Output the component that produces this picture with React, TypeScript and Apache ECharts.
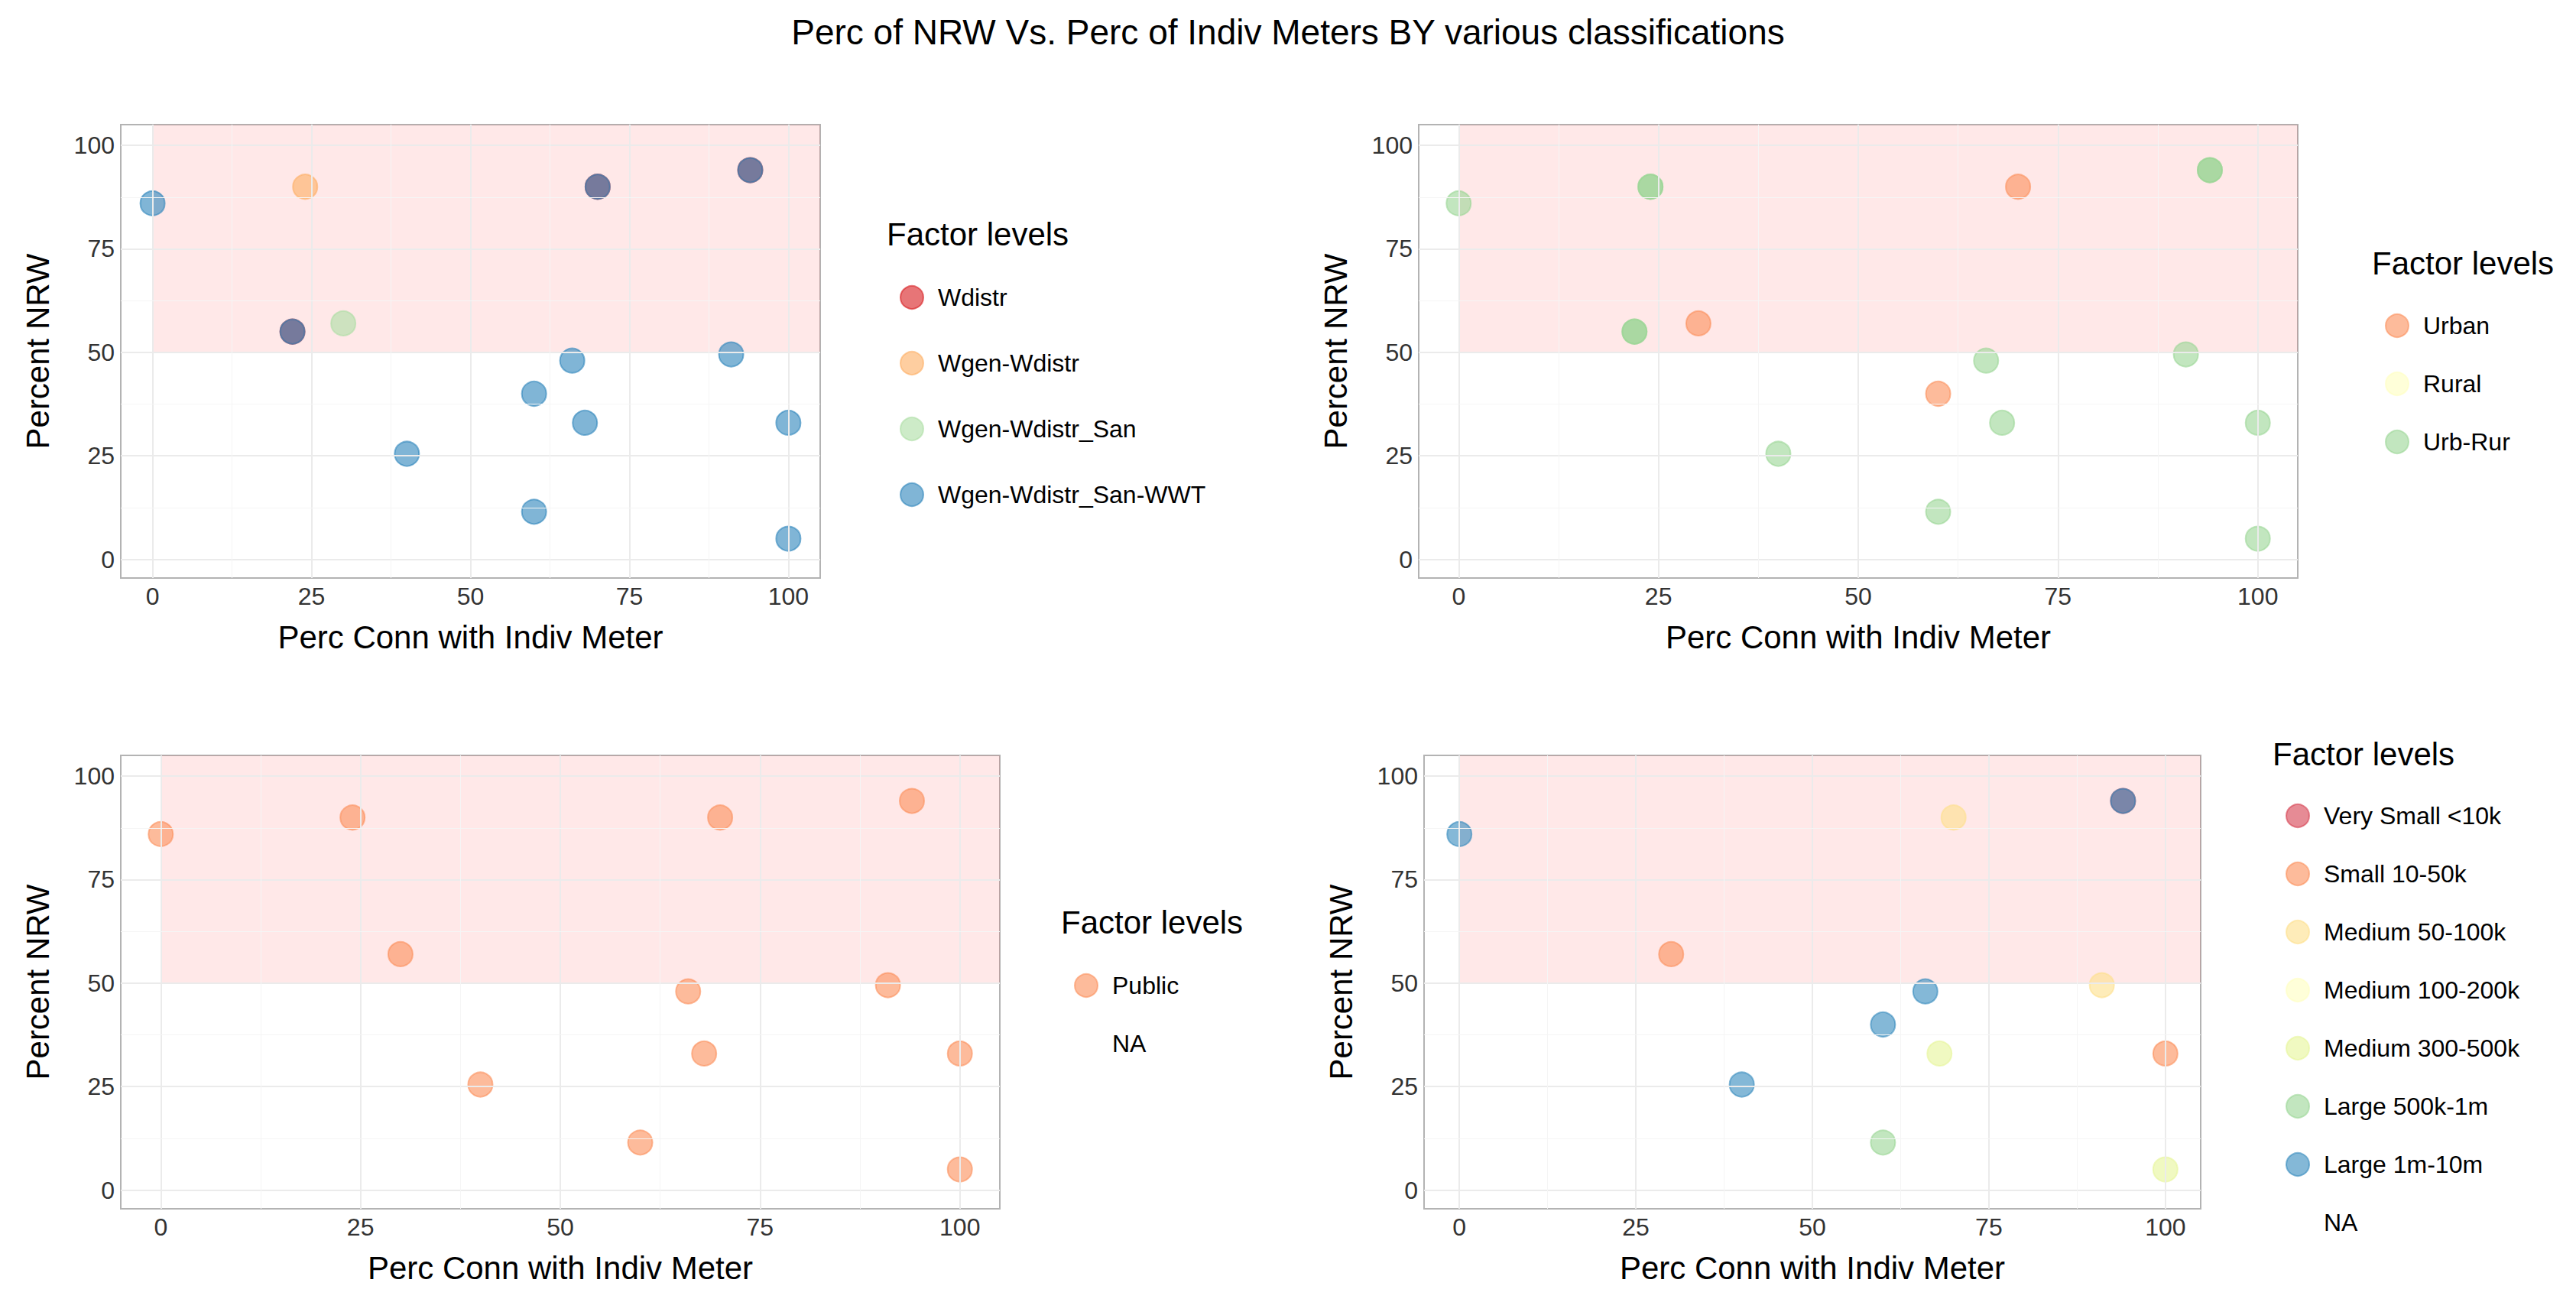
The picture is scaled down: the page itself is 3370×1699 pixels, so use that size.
import React, { useEffect, useRef } from 'react';
import * as echarts from 'echarts';

// [x, y] pairs
const p1Wdistr = [[22, 55], [70, 90], [94, 94]];
const p1WgenWdistr = [[24, 90]];
const p1WgenSan = [[30, 57]];
const p1WgenWWT = [[0, 86], [22, 55], [70, 90], [94, 94], [66, 48], [91, 49.5], [60, 40], [68, 33], [100, 33], [40, 25.5], [60, 11.5], [100, 5]];

const p2Urban = [[30, 57], [70, 90], [60, 40]];
const p2Rural: number[][] = [];
const p2UrbRur = [[0, 86], [24, 90], [24, 90], [22, 55], [22, 55], [94, 94], [94, 94], [66, 48], [91, 49.5], [100, 33], [68, 33], [40, 25.5], [60, 11.5], [100, 5]];

const p3Public = [[0, 86], [24, 90], [30, 57], [70, 90], [94, 94], [66, 48], [91, 49.5], [100, 33], [68, 33], [40, 25.5], [60, 11.5], [100, 5]];

const p4VerySmall = [[94, 94]];
const p4Small = [[30, 57], [100, 33]];
const p4Med50 = [[70, 90], [91, 49.5]];
const p4Med100: number[][] = [];
const p4Med300 = [[68, 33], [100, 5]];
const p4Large500 = [[60, 11.5]];
const p4Large1m = [[0, 86], [94, 94], [66, 48], [60, 40], [40, 25.5]];

const ticks = [0, 25, 50, 75, 100];
const minorTicks = [12.5, 37.5, 62.5, 87.5];

const FONT = 'Liberation Sans';

const panels = [
  {
    grid: { left: 158, top: 163, width: 915, height: 593 },
    legendPos: { left: 1172, top: 368, gap: 54 },
    titlePos: { left: 1155, top: 280 },
    series: [
      ['Wdistr', '#D7191C', p1Wdistr],
      ['Wgen-Wdistr', '#FDAE61', p1WgenWdistr],
      ['Wgen-Wdistr_San', '#ABDDA4', p1WgenSan],
      ['Wgen-Wdistr_San-WWT', '#2B83BA', p1WgenWWT],
    ],
  },
  {
    grid: { left: 1856, top: 163, width: 1150, height: 593 },
    legendPos: { left: 3115, top: 405, gap: 44 },
    titlePos: { left: 3098, top: 318 },
    series: [
      ['Urban', '#FC8D59', p2Urban],
      ['Rural', '#FFFFBF', p2Rural],
      ['Urb-Rur', '#99D594', p2UrbRur],
    ],
  },
  {
    grid: { left: 158, top: 988, width: 1150, height: 593 },
    legendPos: { left: 1400, top: 1268, gap: 44 },
    titlePos: { left: 1383, top: 1180 },
    series: [
      ['Public', '#FC8D59', p3Public],
      ['NA', 'rgba(0,0,0,0)', []],
    ],
  },
  {
    grid: { left: 1863, top: 988, width: 1016, height: 593 },
    legendPos: { left: 2985, top: 1046, gap: 44 },
    titlePos: { left: 2968, top: 960 },
    series: [
      ['Very Small <10k', '#D53E4F', p4VerySmall],
      ['Small 10-50k', '#FC8D59', p4Small],
      ['Medium 50-100k', '#FEE08B', p4Med50],
      ['Medium 100-200k', '#FFFFBF', p4Med100],
      ['Medium 300-500k', '#E6F598', p4Med300],
      ['Large 500k-1m', '#99D594', p4Large500],
      ['Large 1m-10m', '#3288BD', p4Large1m],
      ['NA ', 'rgba(0,0,0,0)', []],
    ],
  },
];

const App: React.FC = () => {
  const chartRef = useRef<HTMLDivElement>(null);

  useEffect(() => {
    document.body.style.margin = '0';
    if (!chartRef.current) return;
    const chart = echarts.init(chartRef.current, undefined, { renderer: 'svg' });

    const grids: any[] = [];
    const xAxes: any[] = [];
    const yAxes: any[] = [];
    const series: any[] = [];
    const legends: any[] = [];
    const titles: any[] = [
      {
        text: 'Perc of NRW Vs. Perc of Indiv Meters BY various classifications',
        left: 'center',
        top: 14,
        textStyle: { fontFamily: FONT, fontSize: 46, fontWeight: 'normal', color: '#000' },
      },
    ];

    panels.forEach((p, i) => {
      grids.push({ ...p.grid, show: true, borderColor: '#B3B3B3', borderWidth: 2, backgroundColor: '#fff' });
      const axisCommon = {
        gridIndex: i,
        type: 'value',
        splitLine: { show: false },
        axisLine: { show: false },
        axisTick: { show: true, customValues: ticks, length: 8, lineStyle: { color: '#333', width: 2 } },
        axisLabel: { customValues: ticks, fontFamily: FONT, fontSize: 32, color: '#333' },
        nameLocation: 'middle',
        nameTextStyle: { fontFamily: FONT, fontSize: 42, color: '#000' },
      };
      xAxes.push({ ...axisCommon, min: -5, max: 105, name: 'Perc Conn with Indiv Meter', nameGap: 56 });
      yAxes.push({ ...axisCommon, min: -4.5, max: 105, name: 'Percent NRW', nameGap: 88 });

      // gridlines and shaded region
      series.push({
        type: 'scatter',
        xAxisIndex: i,
        yAxisIndex: i,
        data: [],
        silent: true,
        markArea: {
          silent: true,
          itemStyle: { color: 'rgba(255,0,0,0.09)' },
          data: [[{ coord: [0, 50] }, { coord: [105, 105] }]],
        },
        markLine: {
          silent: true,
          symbol: 'none',
          label: { show: false },
          data: [
            ...ticks.map((v) => ({ xAxis: v, lineStyle: { color: '#EBEBEB', width: 2, type: 'solid' } })),
            ...ticks.map((v) => ({ yAxis: v, lineStyle: { color: '#EBEBEB', width: 2, type: 'solid' } })),
            ...minorTicks.map((v) => ({ xAxis: v, lineStyle: { color: '#F5F5F5', width: 1, type: 'solid' } })),
            ...minorTicks.map((v) => ({ yAxis: v, lineStyle: { color: '#F5F5F5', width: 1, type: 'solid' } })),
          ],
        },
      });

      p.series.forEach(([name, color, data]) => {
        series.push({
          name,
          type: 'scatter',
          xAxisIndex: i,
          yAxisIndex: i,
          data,
          symbolSize: 32,
          itemStyle: { color, opacity: 0.6, borderColor: color, borderWidth: 2 },
        });
      });

      legends.push({
        data: p.series.map((s) => s[0]),
        orient: 'vertical',
        left: p.legendPos.left,
        top: p.legendPos.top,
        itemGap: p.legendPos.gap,
        itemWidth: 30,
        itemHeight: 30,
        icon: 'circle',
        selectedMode: false,
        itemStyle: { opacity: 0.6 },
        textStyle: { fontFamily: FONT, fontSize: 32, color: '#000', padding: [0, 0, 0, 14] },
      });
      titles.push({
        text: 'Factor levels',
        left: p.titlePos.left,
        top: p.titlePos.top,
        textStyle: { fontFamily: FONT, fontSize: 42, fontWeight: 'normal', color: '#000' },
      });
    });

    chart.setOption({
      animation: false,
      backgroundColor: '#fff',
      title: titles,
      grid: grids,
      xAxis: xAxes,
      yAxis: yAxes,
      legend: legends,
      series,
    });

    return () => {
      chart.dispose();
    };
  }, []);

  return <div ref={chartRef} style={{ width: 3370, height: 1699 }} />;
};

export default App;
